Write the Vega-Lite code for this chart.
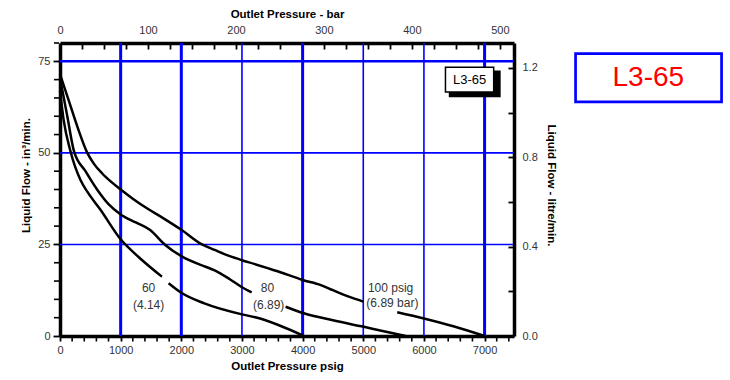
{
  "$schema": "https://vega.github.io/schema/vega-lite/v6.json",
  "width": 454,
  "height": 293,
  "autosize": {"type": "none"},
  "padding": {"left": 60, "top": 43, "right": 216, "bottom": 44},
  "background": "white",
  "config": {
    "view": {"stroke": null},
    "font": "Liberation Sans",
    "axis": {
      "labelFont": "Liberation Sans",
      "labelFontSize": 11,
      "labelColor": "#333333",
      "titleFont": "Liberation Sans",
      "titleFontSize": 11.5,
      "titleFontWeight": "bold",
      "titleColor": "#000000",
      "domainColor": "#000000",
      "domainWidth": 3.5,
      "tickColor": "#000000",
      "tickWidth": 1.8,
      "grid": false,
      "labelFlush": false,
      "labelOverlap": false
    }
  },
  "datasets": {
    "curves": [
      {"series": "100", "seg": "100a", "psig": 0, "flow": 71.5},
      {"series": "100", "seg": "100a", "psig": 150, "flow": 64},
      {"series": "100", "seg": "100a", "psig": 300, "flow": 56.5},
      {"series": "100", "seg": "100a", "psig": 450, "flow": 50},
      {"series": "100", "seg": "100a", "psig": 560, "flow": 47},
      {"series": "100", "seg": "100a", "psig": 700, "flow": 44.3},
      {"series": "100", "seg": "100a", "psig": 850, "flow": 42},
      {"series": "100", "seg": "100a", "psig": 1000, "flow": 40},
      {"series": "100", "seg": "100a", "psig": 1200, "flow": 37.5},
      {"series": "100", "seg": "100a", "psig": 1440, "flow": 34.8},
      {"series": "100", "seg": "100a", "psig": 1700, "flow": 32.2},
      {"series": "100", "seg": "100a", "psig": 2000, "flow": 29},
      {"series": "100", "seg": "100a", "psig": 2340, "flow": 25},
      {"series": "100", "seg": "100a", "psig": 2550, "flow": 23.5},
      {"series": "100", "seg": "100a", "psig": 2800, "flow": 21.8},
      {"series": "100", "seg": "100a", "psig": 3000, "flow": 20.7},
      {"series": "100", "seg": "100a", "psig": 3200, "flow": 19.7},
      {"series": "100", "seg": "100a", "psig": 3600, "flow": 17.6},
      {"series": "100", "seg": "100a", "psig": 4000, "flow": 15.3},
      {"series": "100", "seg": "100a", "psig": 4300, "flow": 13.9},
      {"series": "100", "seg": "100a", "psig": 4500, "flow": 12.5},
      {"series": "100", "seg": "100a", "psig": 4750, "flow": 10.8},
      {"series": "100", "seg": "100a", "psig": 5000, "flow": 9.4},
      {"series": "100", "seg": "100b", "psig": 5560, "flow": 6.5},
      {"series": "100", "seg": "100b", "psig": 6000, "flow": 4.8},
      {"series": "100", "seg": "100b", "psig": 6500, "flow": 2.6},
      {"series": "100", "seg": "100b", "psig": 7000, "flow": 0},
      {"series": "80", "seg": "80a", "psig": 0, "flow": 70.5},
      {"series": "80", "seg": "80a", "psig": 120, "flow": 60},
      {"series": "80", "seg": "80a", "psig": 230, "flow": 50.5},
      {"series": "80", "seg": "80a", "psig": 420, "flow": 45},
      {"series": "80", "seg": "80a", "psig": 620, "flow": 39.8},
      {"series": "80", "seg": "80a", "psig": 800, "flow": 36},
      {"series": "80", "seg": "80a", "psig": 1000, "flow": 33.2},
      {"series": "80", "seg": "80a", "psig": 1250, "flow": 31},
      {"series": "80", "seg": "80a", "psig": 1480, "flow": 29},
      {"series": "80", "seg": "80a", "psig": 1740, "flow": 24.8},
      {"series": "80", "seg": "80a", "psig": 2000, "flow": 21.8},
      {"series": "80", "seg": "80a", "psig": 2400, "flow": 18.9},
      {"series": "80", "seg": "80a", "psig": 2540, "flow": 18},
      {"series": "80", "seg": "80a", "psig": 2800, "flow": 15.5},
      {"series": "80", "seg": "80a", "psig": 3000, "flow": 13.3},
      {"series": "80", "seg": "80a", "psig": 3160, "flow": 11.9},
      {"series": "80", "seg": "80b", "psig": 3720, "flow": 8},
      {"series": "80", "seg": "80b", "psig": 4020, "flow": 6.2},
      {"series": "80", "seg": "80b", "psig": 4500, "flow": 4.3},
      {"series": "80", "seg": "80b", "psig": 5010, "flow": 2.5},
      {"series": "80", "seg": "80b", "psig": 5280, "flow": 1.5},
      {"series": "80", "seg": "80b", "psig": 5700, "flow": 0},
      {"series": "60", "seg": "60a", "psig": 0, "flow": 67},
      {"series": "60", "seg": "60a", "psig": 60, "flow": 59},
      {"series": "60", "seg": "60a", "psig": 175, "flow": 50.3},
      {"series": "60", "seg": "60a", "psig": 340, "flow": 42.5},
      {"series": "60", "seg": "60a", "psig": 450, "flow": 39.4},
      {"series": "60", "seg": "60a", "psig": 670, "flow": 34.4},
      {"series": "60", "seg": "60a", "psig": 1000, "flow": 26.4},
      {"series": "60", "seg": "60a", "psig": 1300, "flow": 21.5},
      {"series": "60", "seg": "60a", "psig": 1680, "flow": 16.2},
      {"series": "60", "seg": "60b", "psig": 1790, "flow": 14.4},
      {"series": "60", "seg": "60b", "psig": 2000, "flow": 11.8},
      {"series": "60", "seg": "60b", "psig": 2380, "flow": 8.9},
      {"series": "60", "seg": "60b", "psig": 3000, "flow": 5.9},
      {"series": "60", "seg": "60b", "psig": 3220, "flow": 5.1},
      {"series": "60", "seg": "60b", "psig": 3600, "flow": 3.0},
      {"series": "60", "seg": "60b", "psig": 4020, "flow": 0}
    ],
    "notes": [
      {"psig": 1460, "flow": 13.1, "text": "60"},
      {"psig": 1460, "flow": 8.5, "text": "(4.14)"},
      {"psig": 3420, "flow": 13.0, "text": "80"},
      {"psig": 3440, "flow": 8.5, "text": "(6.89)"},
      {"psig": 5450, "flow": 13.0, "text": "100 psig"},
      {"psig": 5480, "flow": 8.9, "text": "(6.89 bar)"}
    ],
    "vthick": [{"psig": 1000}, {"psig": 2000}, {"psig": 4000}, {"psig": 7000}],
    "vthin": [{"psig": 3000}, {"psig": 5000}, {"psig": 6000}],
    "hthin": [{"flow": 25}, {"flow": 50}],
    "hthick": [{"flow": 75}],
    "xminor": [
      {"psig": 200}, {"psig": 400}, {"psig": 600}, {"psig": 800},
      {"psig": 1200}, {"psig": 1400}, {"psig": 1600}, {"psig": 1800},
      {"psig": 2200}, {"psig": 2400}, {"psig": 2600}, {"psig": 2800},
      {"psig": 3200}, {"psig": 3400}, {"psig": 3600}, {"psig": 3800},
      {"psig": 4200}, {"psig": 4400}, {"psig": 4600}, {"psig": 4800},
      {"psig": 5200}, {"psig": 5400}, {"psig": 5600}, {"psig": 5800},
      {"psig": 6200}, {"psig": 6400}, {"psig": 6600}, {"psig": 6800},
      {"psig": 7200}, {"psig": 7400}
    ],
    "yminor": [
      {"flow": 5}, {"flow": 10}, {"flow": 15}, {"flow": 20},
      {"flow": 30}, {"flow": 35}, {"flow": 40}, {"flow": 45},
      {"flow": 55}, {"flow": 60}, {"flow": 65}, {"flow": 70}, {"flow": 80}
    ],
    "tagShadow": [{"psig": 6410, "psig2": 7265, "flow": 65.2, "flow2": 72.5}],
    "tag": [{"psig": 6355, "psig2": 7150, "flow": 66.6, "flow2": 73.4, "tx": 6752, "ty": 70, "text": "L3-65"}],
    "badge": [{"psig": 8500, "psig2": 10907, "flow": 63.9, "flow2": 77.1, "tx": 9700, "ty": 70.5, "text": "L3-65"}],
    "secondary": [{"bar": 0, "litre": 0}, {"bar": 500, "litre": 1.2}]
  },
  "layer": [
    {
      "layer": [
        {
          "data": {"name": "vthin"},
          "mark": {"type": "rule", "color": "#0000ff", "strokeWidth": 1.6},
          "encoding": {
            "x": {
              "field": "psig",
              "type": "quantitative",
              "scale": {"domain": [0, 7485], "nice": false, "zero": false},
              "axis": {
                "orient": "bottom",
                "title": "Outlet Pressure psig",
                "values": [0, 1000, 2000, 3000, 4000, 5000, 6000, 7000],
                "format": "d",
                "labelOverlap": false,
                "tickSize": 5,
                "labelPadding": 3,
                "titlePadding": 5
              }
            }
          }
        },
        {
          "data": {"name": "vthick"},
          "mark": {"type": "rule", "color": "#0000ff", "strokeWidth": 3},
          "encoding": {"x": {"field": "psig", "type": "quantitative"}}
        },
        {
          "data": {"name": "hthin"},
          "mark": {"type": "rule", "color": "#0000ff", "strokeWidth": 1.6},
          "encoding": {
            "y": {
              "field": "flow",
              "type": "quantitative",
              "scale": {"domain": [0, 80], "nice": false, "zero": false},
              "axis": {
                "orient": "left",
                "title": "Liquid Flow - in³/min.",
                "values": [0, 25, 50, 75],
                "format": "d",
                "labelOverlap": false,
                "tickSize": 7,
                "labelPadding": 3,
                "titlePadding": 6,
                "titleY": 132
              }
            }
          }
        },
        {
          "data": {"name": "hthick"},
          "mark": {"type": "rule", "color": "#0000ff", "strokeWidth": 2.5},
          "encoding": {"y": {"field": "flow", "type": "quantitative"}}
        },
        {
          "data": {"name": "xminor"},
          "mark": {"type": "tick", "orient": "vertical", "color": "#000000", "size": 4, "thickness": 1.6, "yOffset": 3.5, "opacity": 1},
          "encoding": {
            "x": {"field": "psig", "type": "quantitative"},
            "y": {"datum": 0, "type": "quantitative"}
          }
        },
        {
          "data": {"name": "yminor"},
          "mark": {"type": "tick", "orient": "horizontal", "color": "#000000", "size": 5, "thickness": 1.6, "xOffset": -3.5, "opacity": 1},
          "encoding": {
            "x": {"datum": 0, "type": "quantitative"},
            "y": {"field": "flow", "type": "quantitative"}
          }
        },
        {
          "data": {"name": "curves"},
          "mark": {"type": "line", "color": "#000000", "strokeWidth": 2.5, "interpolate": "monotone"},
          "encoding": {
            "x": {"field": "psig", "type": "quantitative"},
            "y": {"field": "flow", "type": "quantitative"},
            "detail": {"field": "seg", "type": "nominal"}
          }
        },
        {
          "data": {"name": "notes"},
          "mark": {"type": "text", "fontSize": 12, "color": "#333333", "align": "center", "baseline": "middle"},
          "encoding": {
            "x": {"field": "psig", "type": "quantitative"},
            "y": {"field": "flow", "type": "quantitative"},
            "text": {"field": "text"}
          }
        },
        {
          "data": {"name": "tagShadow"},
          "mark": {"type": "rect", "color": "#000000"},
          "encoding": {
            "x": {"field": "psig", "type": "quantitative"},
            "x2": {"field": "psig2"},
            "y": {"field": "flow", "type": "quantitative"},
            "y2": {"field": "flow2"}
          }
        },
        {
          "data": {"name": "tag"},
          "mark": {"type": "rect", "fill": "#ffffff", "stroke": "#000000", "strokeWidth": 1.5},
          "encoding": {
            "x": {"field": "psig", "type": "quantitative"},
            "x2": {"field": "psig2"},
            "y": {"field": "flow", "type": "quantitative"},
            "y2": {"field": "flow2"}
          }
        },
        {
          "data": {"name": "tag"},
          "mark": {"type": "text", "fontSize": 13, "color": "#000000", "align": "center", "baseline": "middle"},
          "encoding": {
            "x": {"field": "tx", "type": "quantitative"},
            "y": {"field": "ty", "type": "quantitative"},
            "text": {"field": "text"}
          }
        },
        {
          "data": {"name": "badge"},
          "mark": {"type": "rect", "fill": null, "fillOpacity": 0, "stroke": "#0000ff", "strokeWidth": 2.7},
          "encoding": {
            "x": {"field": "psig", "type": "quantitative"},
            "x2": {"field": "psig2"},
            "y": {"field": "flow", "type": "quantitative"},
            "y2": {"field": "flow2"}
          }
        },
        {
          "data": {"name": "badge"},
          "mark": {"type": "text", "fontSize": 28, "color": "#ff0000", "align": "center", "baseline": "middle"},
          "encoding": {
            "x": {"field": "tx", "type": "quantitative"},
            "y": {"field": "ty", "type": "quantitative"},
            "text": {"field": "text"}
          }
        }
      ]
    },
    {
      "data": {"name": "secondary"},
      "mark": {"type": "point", "opacity": 0},
      "encoding": {
        "x": {
          "field": "bar",
          "type": "quantitative",
          "scale": {"domain": [0, 516.07], "nice": false, "zero": false},
          "axis": {
            "orient": "top",
            "title": "Outlet Pressure - bar",
            "values": [0,25,50,75,100,125,150,175,200,225,250,275,300,325,350,375,400,425,450,475,500],
            "labelExpr": "datum.value % 100 === 0 ? datum.label : ''",
            "tickSize": -6,
            "labelPadding": 14,
            "titlePadding": 5
          }
        },
        "y": {
          "field": "litre",
          "type": "quantitative",
          "scale": {"domain": [0, 1.31097], "nice": false, "zero": false},
          "axis": {
            "orient": "right",
            "title": "Liquid Flow - litre/min.",
            "titleAngle": 90,
            "titleY": 142,
            "values": [0, 0.2, 0.4, 0.6, 0.8, 1.0, 1.2],
            "labelExpr": "round(datum.value * 10) % 4 === 0 ? format(datum.value, '.1f') : ''",
            "tickSize": -6,
            "labelPadding": 14,
            "titlePadding": 8
          }
        }
      }
    }
  ],
  "resolve": {"scale": {"x": "independent", "y": "independent"}}
}
